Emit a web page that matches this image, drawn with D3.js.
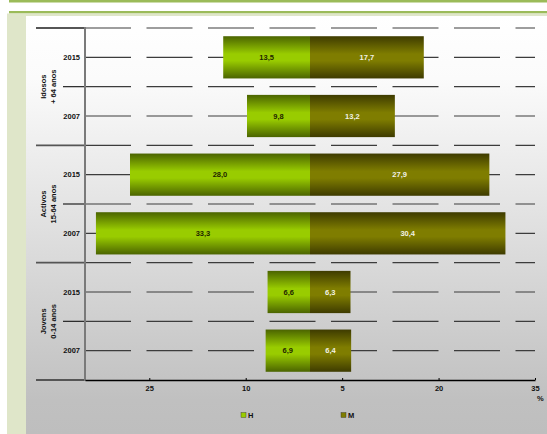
<!DOCTYPE html>
<html>
<head>
<meta charset="utf-8">
<script src="https://cdn.jsdelivr.net/npm/d3@7/dist/d3.min.js"></script>
<style>
  html, body { margin: 0; padding: 0; background: #ffffff; }
  svg { display: block; font-family: "Liberation Sans", Arial, sans-serif; }
</style>
</head>
<body>
<svg id="chart" width="547" height="434"></svg>
<script>
// Population by age group and sex (%), 2015 vs 2007
const groups = [
  ["Idosos", "+ 64 anos"],
  ["Activos", "15-64 anos"],
  ["Jovens", "0-14 anos"]
];
const years = ["2015", "2007"];
const homens = [13.5, 9.8, 28.0, 33.3, 6.6, 6.9];
const mulheres = [17.7, 13.2, 27.9, 30.4, 6.3, 6.4];
const xTickValues = [-25, -10, 5, 20, 35];
const xTickLabels = ["25", "10", "5", "20", "35"];
const seriesNames = ["H", "M"];

const rows = [];
groups.forEach((g, gi) => years.forEach((yr, yi) => {
  const i = gi * years.length + yi;
  rows.push({ id: i, group: gi, year: yr, h: homens[i], m: mulheres[i] });
}));

const svg = d3.select("#chart");
const W = 547, H = 434;
const defs = svg.append("defs");

// page frame
const bgGrad = defs.append("linearGradient").attr("id", "bg").attr("x1", 0).attr("y1", 0).attr("x2", 0).attr("y2", 1);
bgGrad.append("stop").attr("offset", "0%").attr("stop-color", "#ffffff");
bgGrad.append("stop").attr("offset", "15%").attr("stop-color", "#fbfbfb");
bgGrad.append("stop").attr("offset", "92%").attr("stop-color", "#c0c0c0");
bgGrad.append("stop").attr("offset", "100%").attr("stop-color", "#bebebe");

svg.append("rect").attr("x", 9).attr("y", 0).attr("width", W - 9).attr("height", 2.5).attr("fill", "#9bbb59");
svg.append("rect").attr("x", 9).attr("y", 11).attr("width", W - 9).attr("height", 2.5).attr("fill", "#9bbb59");
svg.append("rect").attr("x", 7).attr("y", 13.5).attr("width", W - 7).attr("height", H - 13.5).attr("fill", "#dfe6c9");
svg.append("rect").attr("x", 26).attr("y", 16).attr("width", W - 26).attr("height", H - 16).attr("fill", "url(#bg)");

// bar gradients
function barGradient(id, edge, mid) {
  const g = defs.append("linearGradient").attr("id", id).attr("x1", 0).attr("y1", 0).attr("x2", 0).attr("y2", 1);
  g.append("stop").attr("offset", "0%").attr("stop-color", edge);
  g.append("stop").attr("offset", "42%").attr("stop-color", mid);
  g.append("stop").attr("offset", "58%").attr("stop-color", mid);
  g.append("stop").attr("offset", "100%").attr("stop-color", edge);
}
barGradient("gH", "#4b6400", "#99cc00");
barGradient("gM", "#3e3b00", "#7f7d00");
const swatch = { H: "#99cc00", M: "#7f7d00" };

// scales
const x = d3.scaleLinear().domain([-35, 35]).range([85, 535]);
const y = d3.scaleBand().domain(rows.map(d => d.id)).range([28, 380])
  .paddingInner(0.28).paddingOuter(0.14);
const step = y.step();
const centre = i => y(i) + y.bandwidth() / 2;

// gridlines: one through each row and one between rows
const gridYs = [];
rows.forEach(r => { gridYs.push(centre(r.id) - step / 2); gridYs.push(centre(r.id)); });

svg.append("g").selectAll("line").data(gridYs).join("line")
  .attr("x1", x(-35)).attr("x2", x(35))
  .attr("y1", d => d).attr("y2", d => d)
  .attr("stroke", "#3c3c3c").attr("stroke-width", 1.2)
  .attr("stroke-dasharray", "46,15.5");

// category ticks to the left of the axis
gridYs.forEach((gy, k) => {
  if (k % 2 === 1) return;
  const boundary = (k % 4 === 0);
  svg.append("line")
    .attr("x1", boundary ? 36 : 63).attr("x2", x(-35))
    .attr("y1", gy).attr("y2", gy)
    .attr("stroke", boundary ? "#555555" : "#222222")
    .attr("stroke-width", boundary ? 1.8 : 1.2);
});
svg.append("line")
  .attr("x1", 36).attr("x2", x(-35))
  .attr("y1", 380).attr("y2", 380)
  .attr("stroke", "#555555").attr("stroke-width", 1.8);

// bars
const bars = svg.append("g");
bars.selectAll("rect.h").data(rows).join("rect").attr("class", "h")
  .attr("x", d => x(-d.h)).attr("width", d => x(0) - x(-d.h))
  .attr("y", d => y(d.id)).attr("height", y.bandwidth())
  .attr("fill", "url(#gH)");
bars.selectAll("rect.m").data(rows).join("rect").attr("class", "m")
  .attr("x", x(0)).attr("width", d => x(d.m) - x(0))
  .attr("y", d => y(d.id)).attr("height", y.bandwidth())
  .attr("fill", "url(#gM)");

const fmt = v => d3.format(".1f")(v).replace(".", ",");
bars.selectAll("text.h").data(rows).join("text").attr("class", "h")
  .attr("x", d => (x(-d.h) + x(0)) / 2).attr("y", d => centre(d.id))
  .attr("dy", "0.35em").attr("text-anchor", "middle")
  .attr("font-size", 7.5).attr("font-weight", "bold").attr("fill", "#1f2600")
  .text(d => fmt(d.h));
bars.selectAll("text.m").data(rows).join("text").attr("class", "m")
  .attr("x", d => (x(d.m) + x(0)) / 2).attr("y", d => centre(d.id))
  .attr("dy", "0.35em").attr("text-anchor", "middle")
  .attr("font-size", 7.5).attr("font-weight", "bold").attr("fill", "#f2f2e6")
  .text(d => fmt(d.m));

// vertical axis line
svg.append("line")
  .attr("x1", x(-35)).attr("x2", x(-35)).attr("y1", 27).attr("y2", 381)
  .attr("stroke", "#7a7a7a").attr("stroke-width", 2);

// year labels
svg.append("g").selectAll("text").data(rows).join("text")
  .attr("x", 80).attr("y", d => centre(d.id)).attr("dy", "0.35em")
  .attr("text-anchor", "end").attr("font-size", 7.5).attr("font-weight", "bold")
  .attr("fill", "#111").text(d => d.year);

// group labels, rotated
groups.forEach((g, gi) => {
  const cy = (centre(gi * 2) + centre(gi * 2 + 1)) / 2;
  g.forEach((line, li) => {
    const cx = 46 + li * 9.5;
    svg.append("text")
      .attr("transform", `translate(${cx},${cy}) rotate(-90)`)
      .attr("text-anchor", "middle").attr("font-size", 7.5).attr("font-weight", "bold")
      .attr("fill", "#111").text(line);
  });
});

// x axis
const xAxis = d3.axisBottom(x).tickValues(xTickValues)
  .tickFormat((d, i) => xTickLabels[i]).tickSizeInner(-2).tickSizeOuter(0).tickPadding(6);
const ax = svg.append("g").attr("transform", "translate(0,380)").call(xAxis);
ax.select(".domain").attr("stroke", "#000").attr("stroke-width", 1.5);
ax.selectAll(".tick line").attr("stroke", "#000");
ax.selectAll(".tick text").attr("font-size", 7.5).attr("font-weight", "bold")
  .attr("fill", "#111").attr("font-family", "Liberation Sans, Arial, sans-serif");

svg.append("text").attr("x", 537).attr("y", 401).attr("font-size", 7.5)
  .attr("font-weight", "bold").attr("fill", "#111").text("%");

// legend
const leg = svg.append("g").selectAll("g").data(seriesNames).join("g")
  .attr("transform", (d, i) => `translate(${241 + i * 100},412.5)`);
leg.append("rect").attr("width", 5).attr("height", 5)
  .attr("fill", d => swatch[d]).attr("stroke", "#333").attr("stroke-width", 0.4);
leg.append("text").attr("x", 7).attr("y", 2.6).attr("dy", "0.35em")
  .attr("font-size", 7.5).attr("font-weight", "bold").attr("fill", "#111").text(d => d);
</script>
</body>
</html>
